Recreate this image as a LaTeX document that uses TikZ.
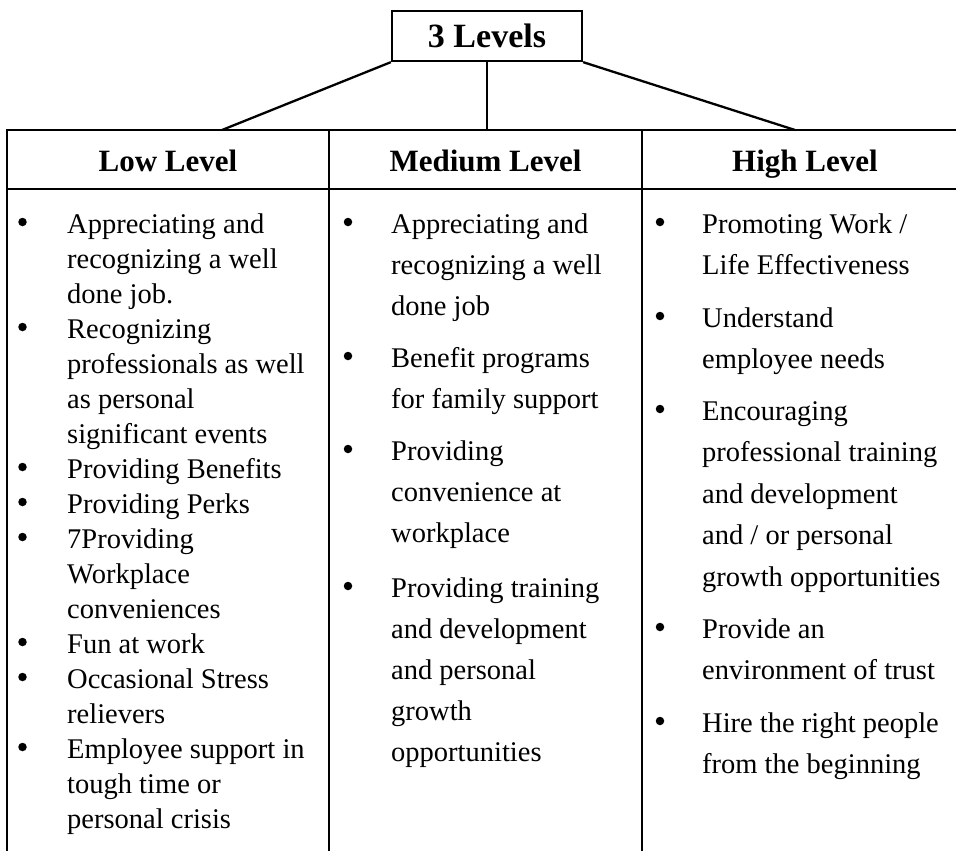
\documentclass[tikz,border=0pt]{standalone}
\usepackage{fontspec}
\setmainfont{Liberation Serif}
\newcommand\tightbody{\fontsize{28.5}{35}\selectfont}
\newcommand\loosebody{\fontsize{28.5}{41}\selectfont}
\newcommand\widebody{\fontsize{28.5}{41.5}\selectfont}
\newcommand\itemlines[1]{\parbox[t]{300pt}{#1}}
\tikzset{
  rule/.style={line width=2.3pt},
  titlebox/.style={draw, line width=2.3pt, minimum width=190pt, minimum height=50pt,
    inner sep=0pt, font=\fontsize{34}{40}\selectfont\bfseries},
  colhead/.style={anchor=base, inner sep=0pt, font=\fontsize{31}{36}\selectfont\bfseries},
  dot/.style={circle, fill, inner sep=0pt, minimum size=8.5pt, yshift=11pt},
  entry/.style={anchor=base west, inner sep=0pt},
}
\begin{document}
\begin{tikzpicture}[x=1pt, y=-1pt]
\useasboundingbox (0,0) rectangle (956,851);

% root box and its three branches
\node[titlebox] (root) at (487,36) {3 Levels};
\coordinate (lowtop) at (222,130);
\coordinate (midtop) at (487,130);
\coordinate (hightop) at (795,130);
\draw[rule] (root.south west) -- (lowtop);
\draw[rule] (root.south) -- (midtop);
\draw[rule] (root.south east) -- (hightop);

% table rules (open at the right and at the bottom)
\draw[rule] (7,851) -- (7,130) -- (956,130);
\draw[rule] (7,189) -- (956,189);
\draw[rule] (329,130) -- (329,851);
\draw[rule] (642,130) -- (642,851);

% column headings
\node[colhead] (lowhead) at (168,171) {Low Level};
\node[colhead] (midhead) at (485.5,171) {Medium Level};
\node[colhead] (highhead) at (805,171) {High Level};

% low level
\begin{scope}[every node/.append style={font=\tightbody}]
\node[dot] (lb1) at (22.5,233) {};
\node[entry] (lt1) at (67,233) {\itemlines{Appreciating and\\recognizing a well\\done job.}};
\node[dot] (lb2) at (22.5,338) {};
\node[entry] (lt2) at (67,338) {\itemlines{Recognizing\\professionals as well\\as personal\\significant events}};
\node[dot] (lb3) at (22.5,478) {};
\node[entry] (lt3) at (67,478) {\itemlines{Providing Benefits}};
\node[dot] (lb4) at (22.5,513) {};
\node[entry] (lt4) at (67,513) {\itemlines{Providing Perks}};
\node[dot] (lb5) at (22.5,548) {};
\node[entry] (lt5) at (67,548) {\itemlines{7Providing\\Workplace\\conveniences}};
\node[dot] (lb6) at (22.5,653) {};
\node[entry] (lt6) at (67,653) {\itemlines{Fun at work}};
\node[dot] (lb7) at (22.5,688) {};
\node[entry] (lt7) at (67,688) {\itemlines{Occasional Stress\\relievers}};
\node[dot] (lb8) at (22.5,758) {};
\node[entry] (lt8) at (67,758) {\itemlines{Employee support in\\tough time or\\personal crisis}};
\end{scope}

% medium level
\begin{scope}[every node/.append style={font=\loosebody}]
\node[dot] (mb1) at (348,233) {};
\node[entry] (mt1) at (391,233) {\itemlines{Appreciating and\\recognizing a well\\done job}};
\node[dot] (mb2) at (348,367) {};
\node[entry] (mt2) at (391,367) {\itemlines{Benefit programs\\for family support}};
\node[dot] (mb3) at (348,460) {};
\node[entry] (mt3) at (391,460) {\itemlines{Providing\\convenience at\\workplace}};
\node[dot] (mb4) at (348,597) {};
\node[entry] (mt4) at (391,597) {\itemlines{Providing training\\and development\\and personal\\growth\\opportunities}};
\end{scope}

% high level
\begin{scope}[every node/.append style={font=\widebody}]
\node[dot] (hb1) at (660,233) {};
\node[entry] (ht1) at (702,233) {\itemlines{Promoting Work /\\Life Effectiveness}};
\node[dot] (hb2) at (660,327) {};
\node[entry] (ht2) at (702,327) {\itemlines{Understand\\employee needs}};
\node[dot] (hb3) at (660,420) {};
\node[entry] (ht3) at (702,420) {\itemlines{Encouraging\\professional training\\and development\\and / or personal\\growth opportunities}};
\node[dot] (hb4) at (660,638) {};
\node[entry] (ht4) at (702,638) {\itemlines{Provide an\\environment of trust}};
\node[dot] (hb5) at (660,732) {};
\node[entry] (ht5) at (702,732) {\itemlines{Hire the right people\\from the beginning}};
\end{scope}
\end{tikzpicture}
\end{document}
